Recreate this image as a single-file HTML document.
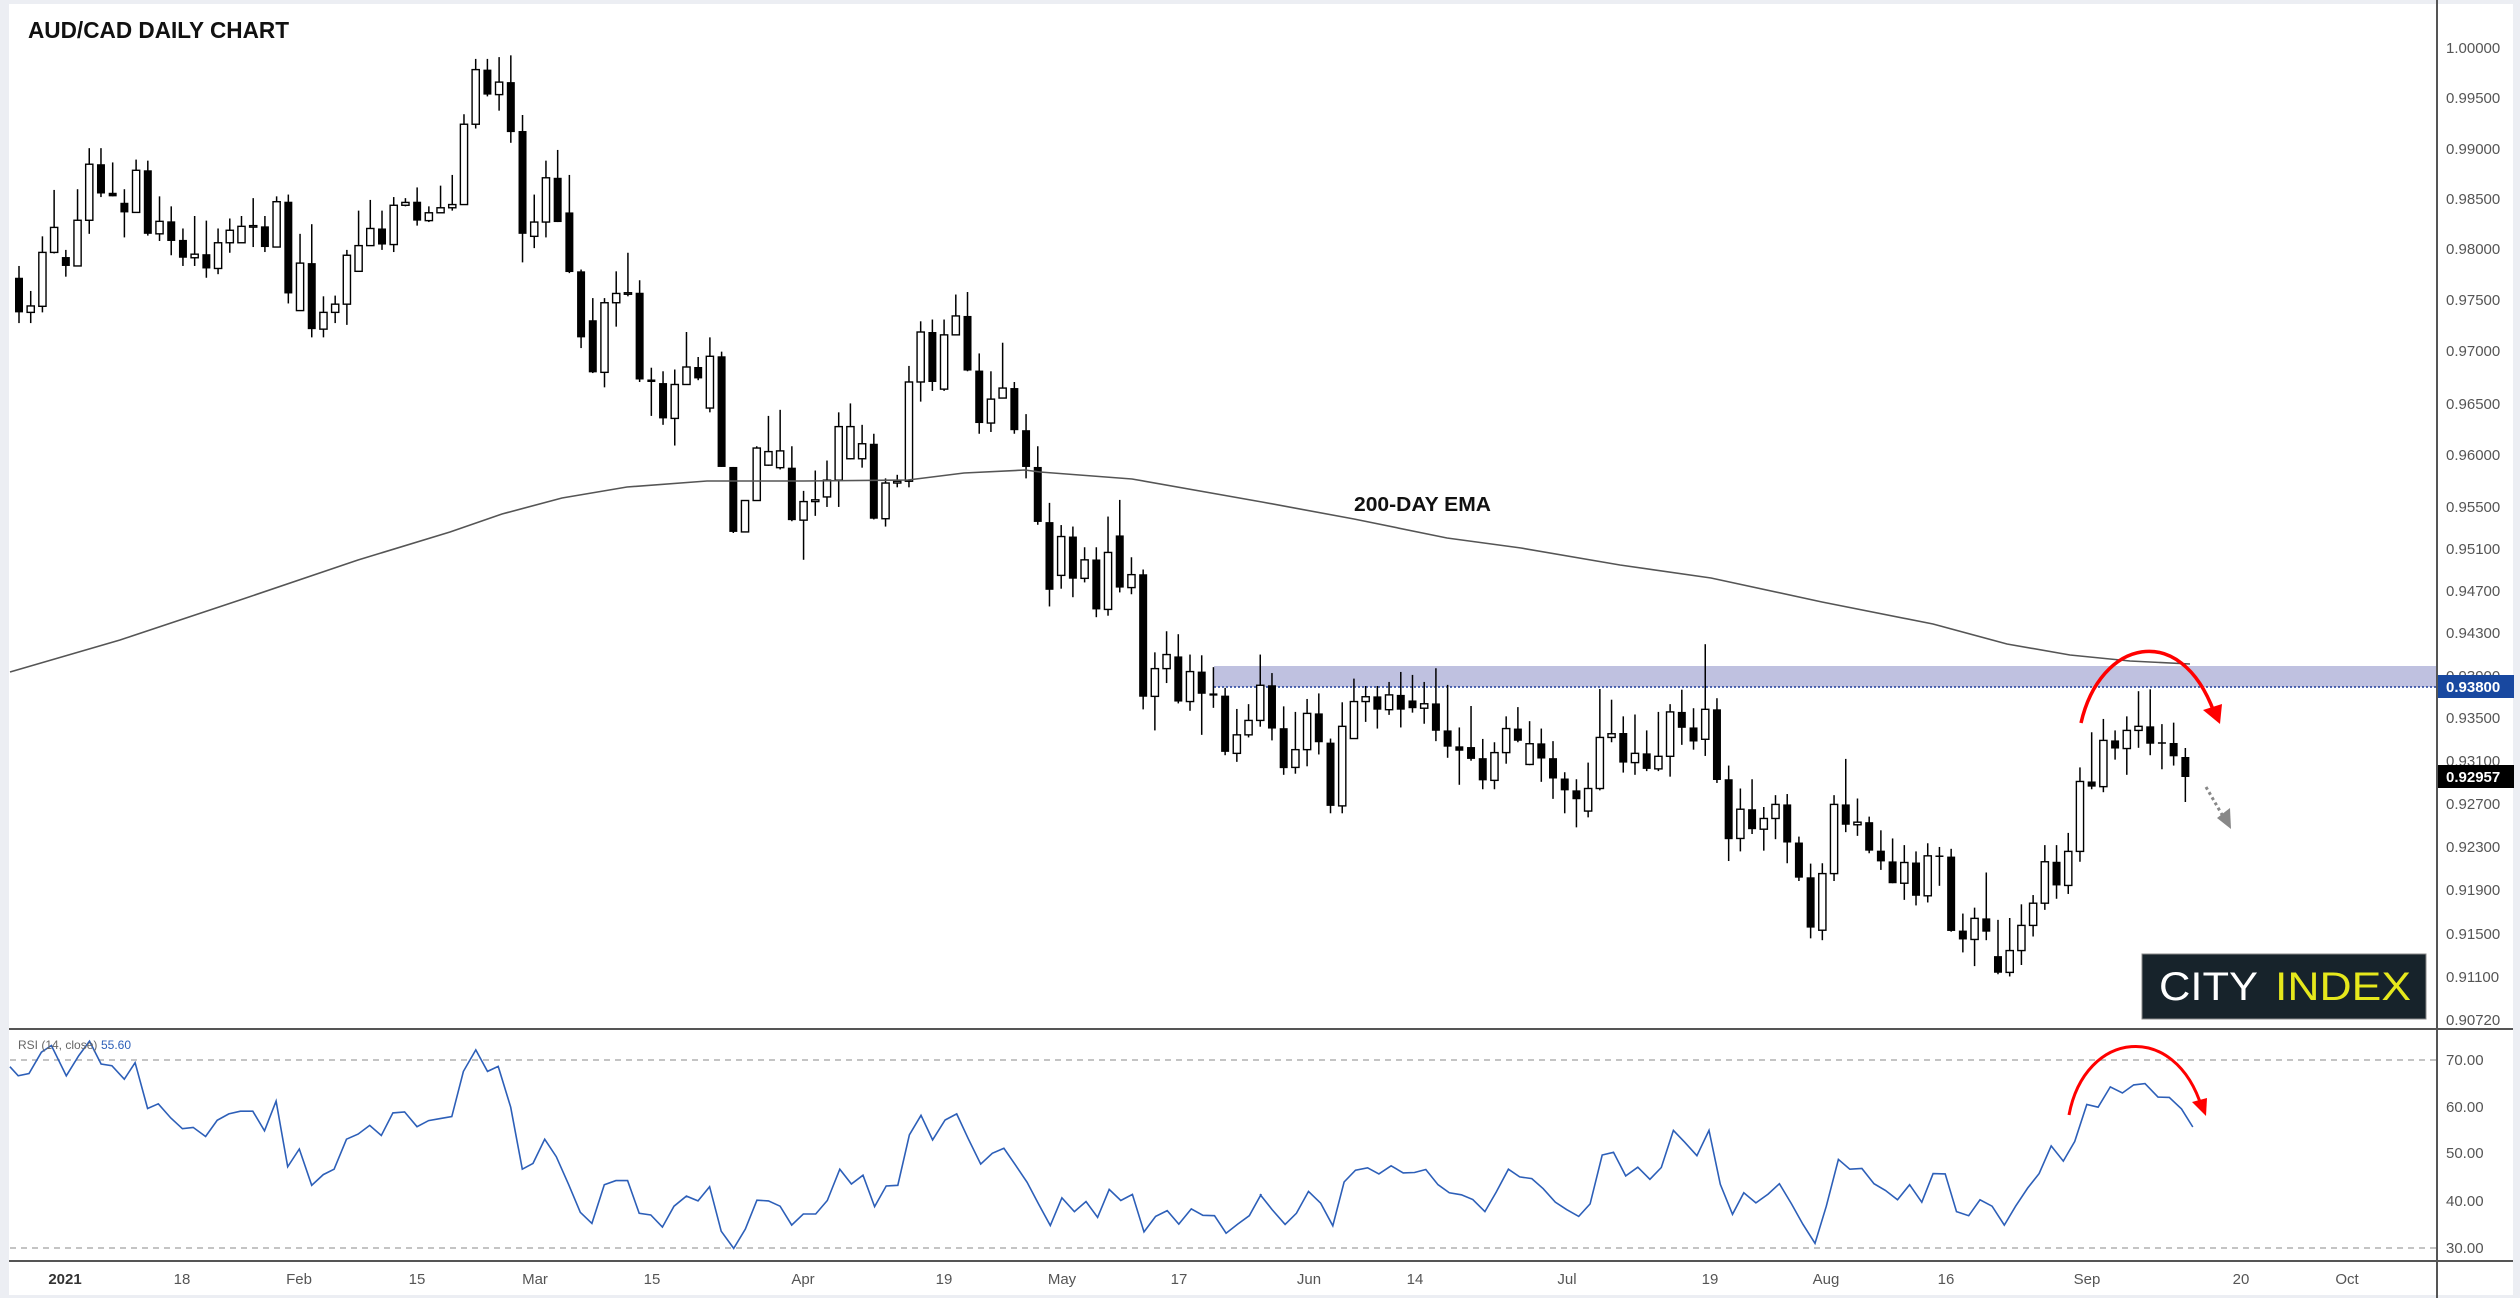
<!DOCTYPE html>
<html><head><meta charset="utf-8">
<style>
html,body{margin:0;padding:0;background:#fff;}
svg{display:block;}
text{font-family:"Liberation Sans",sans-serif;}
</style></head>
<body>
<svg id="s" xmlns="http://www.w3.org/2000/svg" width="2520" height="1298" viewBox="0 0 2520 1298">
<rect x="0" y="0" width="2520" height="1298" fill="#eceef3"/>
<rect x="9" y="4" width="2504" height="1291" fill="#ffffff"/>
<!-- resistance band -->
<rect x="1214" y="666" width="1222" height="21" fill="#bfc1e0"/>
<line x1="1214" y1="687" x2="2436" y2="687" stroke="#1f3d99" stroke-width="1.5" stroke-dasharray="2,2"/>
<!-- RSI levels -->
<line x1="10" y1="1060" x2="2436" y2="1060" stroke="#b0b0b0" stroke-width="1.5" stroke-dasharray="6,5"/>
<line x1="10" y1="1248" x2="2436" y2="1248" stroke="#b0b0b0" stroke-width="1.5" stroke-dasharray="6,5"/>
<g id="candles"></g>
<polyline id="ema" fill="none" stroke="#555" stroke-width="1.6" points="10,672 120,640 240,600 358,560 450,532 502,514 562,498 627,487 707,481 804,481 908,480 964,473 1025,470 1040,472 1132,479 1262,502 1354,519 1447,538 1521,548 1620,565 1711,578 1822,602 1933,624 2007,644 2070,655 2130,661 2190,664"/>
<polyline id="rsi" fill="none" stroke="#2d5fb8" stroke-width="1.6" points=""/>
<text x="1354" y="511" font-size="20" font-weight="bold" fill="#111" textLength="137" lengthAdjust="spacingAndGlyphs">200-DAY EMA</text>
<text x="28" y="38" font-size="23" font-weight="bold" fill="#111" textLength="261" lengthAdjust="spacingAndGlyphs">AUD/CAD DAILY CHART</text>
<text x="18" y="1049" font-size="12" fill="#666">RSI (14, close)</text>
<text x="101" y="1049" font-size="12" fill="#2d5fb8">55.60</text>
<!-- red arcs -->
<path d="M2081,723 C2100,640 2180,620 2214,712" fill="none" stroke="#f00" stroke-width="3.5"/>
<polygon points="2203,710 2222,704 2220,724" fill="#f00"/>
<path d="M2069,1115 C2085,1030 2175,1020 2202,1108" fill="none" stroke="#f00" stroke-width="3"/>
<polygon points="2192,1102 2207,1098 2206,1116" fill="#f00"/>
<!-- dotted gray arrow -->
<line x1="2206" y1="787" x2="2224" y2="818" stroke="#888" stroke-width="3" stroke-dasharray="3,3"/>
<polygon points="2217,818 2230,808 2231,829" fill="#888"/>
<!-- city index -->
<rect x="2142" y="954" width="284" height="65" fill="#17232b" stroke="#888" stroke-width="1"/>
<text x="2159" y="1000" font-size="40" fill="#fff" textLength="99" lengthAdjust="spacingAndGlyphs">CITY</text>
<text x="2275" y="1000" font-size="40" fill="#e6e81c" textLength="136" lengthAdjust="spacingAndGlyphs">INDEX</text>
<!-- axes lines -->
<line x1="2437" y1="0" x2="2437" y2="1298" stroke="#555" stroke-width="2"/>
<line x1="9" y1="1029" x2="2513" y2="1029" stroke="#555" stroke-width="2"/>
<line x1="9" y1="1261" x2="2513" y2="1261" stroke="#555" stroke-width="2"/>
<g id="labels" font-size="15" fill="#555"></g>
<rect x="2438" y="675" width="76" height="23" fill="#1848a0"/>
<text x="2446" y="692" font-size="15" font-weight="bold" fill="#fff">0.93800</text>
<rect x="2438" y="765" width="76" height="23" fill="#000"/>
<text x="2446" y="782" font-size="15" font-weight="bold" fill="#fff">0.92957</text>
</svg>
<script>
var NS="http://www.w3.org/2000/svg";
function el(t,a,p){var e=document.createElementNS(NS,t);for(var k in a)e.setAttribute(k,a[k]);(p||document.getElementById('s')).appendChild(e);return e;}
var A=[
[1,778,875,745,905],[0,857,875,815,905],[0,707,858,662,875],[0,637,707,532,710],[1,720,745,700,775],
[0,617,745,530,745],[0,460,617,415,655],[1,460,542,415,552],[1,540,550,455,550],[1,568,595,530,665],
[0,477,595,447,595],[1,477,655,450,660],[0,620,655,550,675],[1,620,675,578,715],[1,672,722,640,745],
[0,712,722,605,745],[1,712,752,618,778],[0,680,752,640,768],[0,645,680,612,708],[0,634,680,605,680],
[0,632,636,555,692],[1,634,692,605,706],[0,565,692,550,692],[1,565,822,545,850],[0,737,870,655,870],
[1,737,922,628,945],[0,875,922,830,945],[0,852,875,828,905],[0,715,852,700,910],[0,688,760,590,760],
[0,640,688,560,688],[1,640,685,590,700],[0,575,685,552,706],[0,567,575,555,578],[1,565,618,525,632],
[0,596,618,578,622],[0,582,596,520,596],[0,573,582,490,590],[0,348,573,320,573],[0,195,348,165,360],
[1,195,265,165,270],[0,230,265,160,310],[1,230,370,155,400],[1,367,655,322,735],[0,622,662,545,695],
[0,498,622,450,665],[1,498,622,420,622],[1,595,762,490,765],[1,760,945,755,975],[1,897,1043,835,1045],
[0,848,1043,835,1085],[0,822,848,760,915],[0,820,824,708,830],[1,820,1063,785,1070],[1,1063,1070,1030,1165],
[1,1073,1172,1040,1190],[0,1077,1172,1035,1248],[0,1028,1077,930,1077],[1,1028,1060,1000,1065],[0,998,1143,945,1155],
[1,998,1308,985,1308],[1,1308,1490,1308,1493],[0,1402,1490,1402,1490],[0,1255,1402,1250,1402],[0,1265,1303,1165,1305],
[0,1263,1310,1148,1315],[1,1310,1457,1250,1460],[0,1405,1457,1375,1568],[0,1400,1405,1318,1445],[0,1345,1392,1290,1420],
[0,1195,1345,1155,1420],[0,1195,1285,1130,1287],[0,1243,1285,1190,1310],[1,1243,1453,1215,1455],[0,1353,1453,1340,1475],
[0,1348,1353,1330,1365],[0,1070,1348,1025,1365],[0,930,1070,900,1125],[1,930,1070,895,1095],[0,938,1090,895,1095],
[0,885,938,825,938],[1,885,1038,818,1040],[1,1038,1185,990,1215],[0,1118,1185,1040,1210],[0,1087,1115,960,1115],
[1,1087,1205,1070,1215],[1,1205,1308,1160,1340],[1,1308,1462,1250,1470]
];
var B=[
[1,330,513,278,558],[0,369,474,338,510],[1,369,483,342,533],[0,432,482,398,493],[1,431,566,398,587],
[0,412,566,315,583],[1,366,507,270,520],[0,472,507,425,525],[1,471,802,458,836],[0,726,801,682,893],
[0,688,726,625,765],[1,693,815,633,820],[0,734,815,688,840],[1,734,794,690,905],[1,793,799,722,832],
[1,799,951,778,960],[0,905,955,835,978],[0,866,905,822,912],[0,771,866,688,883],[1,771,888,738,920],
[1,887,995,828,1013],[0,945,993,843,1010],[0,847,945,808,990],[1,847,925,793,958],[1,926,1097,915,1117],
[0,882,1097,817,1117],[0,815,915,753,915],[0,802,815,773,870],[1,801,837,773,888],[0,797,837,762,851],
[1,797,837,735,885],[1,812,833,743,845],[0,821,833,762,875],[1,820,894,725,922],[1,893,937,770,967],
[1,936,948,885,1040],[1,938,970,827,975],[1,968,1028,916,1052],[0,953,1028,925,1052],[0,888,953,855,983],
[1,888,921,830,925],[0,929,985,868,987],[1,928,969,888,1032],[1,968,1023,922,1078],[1,1023,1055,1006,1117],
[1,1055,1079,1025,1155],[0,1050,1111,980,1128],[0,912,1050,781,1055],
[0,902,912,810,925],[1,900,980,855,1007],[0,955,980,850,1013],[1,955,997,893,1003],[0,963,997,843,1003],
[0,843,963,822,1018],[1,843,886,783,932],[1,885,923,833,945],[0,836,917,660,962],[1,836,1027,806,1035],
[1,1025,1187,988,1246],[0,1106,1185,1050,1220],[1,1106,1160,1025,1173],[0,1131,1160,1100,1218],[0,1093,1131,1068,1187],
[1,1093,1196,1065,1252],[1,1196,1291,1180,1300],[1,1290,1426,1253,1455],[0,1280,1433,1252,1460],[0,1093,1280,1068,1300],
[1,1093,1148,970,1168],[0,1141,1148,1077,1178],[1,1141,1218,1126,1225],[1,1218,1247,1163,1270],[1,1247,1306,1185,1306],
[0,1250,1306,1203,1351],[1,1250,1340,1220,1366],[0,1232,1340,1198,1358],[1,1231,1235,1208,1313],[1,1234,1435,1213,1437],
[1,1434,1458,1388,1493],[0,1401,1458,1372,1530],[1,1401,1437,1277,1460],[1,1503,1548,1405,1552],[0,1488,1547,1400,1558],
[0,1420,1488,1363,1527],[0,1360,1420,1338,1450],[0,1248,1360,1203,1378],[1,1248,1312,1203,1348],[0,1220,1312,1170,1335],
[0,1031,1220,993,1248],[1,1031,1045,898,1052],[0,920,1045,862,1060],[1,920,942,893,972],[0,893,942,855,1013],
[0,882,893,787,940],[1,882,929,782,960],[1,925,929,876,998],[1,927,963,872,988]
];
var g=document.getElementById('candles');
function X(n){return 19+11.71*n;}
function draw(n,c,t,b,wt,wb){
  var x=X(n);var top=Math.min(t,b),bot=Math.max(t,b);
  wt=Math.min(wt,top);wb=Math.max(wb,bot);
  el('line',{x1:x,y1:wt,x2:x,y2:wb,stroke:'#000','stroke-width':1.5},g);
  var h=Math.max(bot-top,1.5);
  if(c==1) el('rect',{x:x-4,y:top,width:8,height:h,fill:'#000'},g);
  else el('rect',{x:x-3.6,y:top,width:7.2,height:h,fill:'#fff',stroke:'#000','stroke-width':1.4},g);
}
A.forEach(function(r,i){var k=0.357;draw(i,r[0],r[1]*k,r[2]*k,r[3]*k,r[4]*k);});
B.forEach(function(r,i){var k=0.37;draw(88+i,r[0],400+r[1]*k,400+r[2]*k,400+r[3]*k,400+r[4]*k);});
draw(185,1,757,777,748,802);

var R2=[[12,198],[22,225],[35,218],[50,155],[62,135],[80,225],[95,165],[108,122],[122,190],[135,195],[150,235],[163,186],[178,322],[191,308],[206,350],[220,382],[233,378],[248,405],[262,357],[276,338],[290,330],[305,330],[319,388],[333,300],[347,495],[361,442],[376,550],[390,518],[403,502],[418,413],[432,398],[446,372],[460,402],[474,335],[488,332],[503,376],[517,358],[531,352],[545,346],[559,212],[574,148],[588,212],[601,197],[616,318],[630,502],[643,485],[657,413],[671,465],[686,548],[700,630],[714,663],[729,548],[743,536],[757,536],[771,633],[785,638],[799,674],[813,612],[828,582],[842,596],[856,554],[870,686],[885,737],[899,680],[913,594],[927,596],[941,612],[955,668],[969,635],[984,635],[998,595],[1013,502],[1027,546],[1041,520],[1055,613],[1069,552],[1083,550],[1097,400],[1111,342],[1125,415],[1140,356],[1154,338],[1168,412],[1183,487],[1197,455],[1211,440],[1225,490],[1239,541],[1253,606],[1267,669],[1281,587],[1296,628],[1310,598],[1324,645],[1338,562],[1352,595],[1366,577],[1380,688],[1394,642],[1408,625],[1422,665],[1437,620],[1451,639],[1465,640],[1479,692],[1493,665],[1507,640],[1521,578]];
var R3=[[0,577],[15,622],[31,666],[45,633],[60,568],[75,603],[90,670],[104,540],[118,505],[133,498],[147,516],[162,492],[177,513],[191,512],[205,503],[220,548],[234,572],[249,578],[263,592],[278,628],[292,570],[307,502],[321,525],[336,530],[350,560],[365,600],[379,622],[394,642],[408,605],[423,460],[437,452],[452,522],[467,496],[482,532],[496,497],[511,387],[525,422],[540,462],[555,387],[569,547],[584,636],[598,572],[613,602],[628,576],[642,545],[657,605],[671,665],[686,722],[700,612],[715,473],[729,502],[744,500],[759,545],[773,565],[788,593],[803,548],[818,600],[832,515],[847,516],[861,628],[876,640],[890,593],[905,612],[920,668],[934,612],[949,558],[963,515],[978,433],[993,478],[1007,420],[1022,310],[1036,318],[1051,258],[1066,276],[1080,252],[1094,248],[1110,288],[1124,289],[1139,323],[1153,377]];
var pts=[];
R2.forEach(function(p){pts.push((p[0]*0.829).toFixed(1)+','+(1000+p[1]*0.337).toFixed(1));});
R3.forEach(function(p){pts.push((1260+p[0]*0.809).toFixed(1)+','+(1000+p[1]*0.337).toFixed(1));});
document.getElementById('rsi').setAttribute('points',pts.join(' '));

var L=document.getElementById('labels');
var P=[["1.00000",48],["0.99500",98],["0.99000",149],["0.98500",199],["0.98000",249],["0.97500",300],["0.97000",351],["0.96500",404],["0.96000",455],["0.95500",507],["0.95100",549],["0.94700",591],["0.94300",633],["0.93900",676],["0.93500",718],["0.93100",761],["0.92700",804],["0.92300",847],["0.91900",890],["0.91500",934],["0.91100",977],["0.90720",1020],
["70.00",1060],["60.00",1107],["50.00",1153],["40.00",1201],["30.00",1248]];
P.forEach(function(p){var t=el('text',{x:2446,y:p[1]+5},L);t.textContent=p[0];});
var D=[["2021",65,1],["18",182],["Feb",299],["15",417],["Mar",535],["15",652],["Apr",803],["19",944],["May",1062],["17",1179],["Jun",1309],["14",1415],["Jul",1567],["19",1710],["Aug",1826],["16",1946],["Sep",2087],["20",2241],["Oct",2347]];
D.forEach(function(d){var a={x:d[1],y:1284,'text-anchor':'middle'};if(d[2]){a['font-weight']='bold';a.fill='#333';}var t=el('text',a,L);t.textContent=d[0];});
</script>
</body></html>
